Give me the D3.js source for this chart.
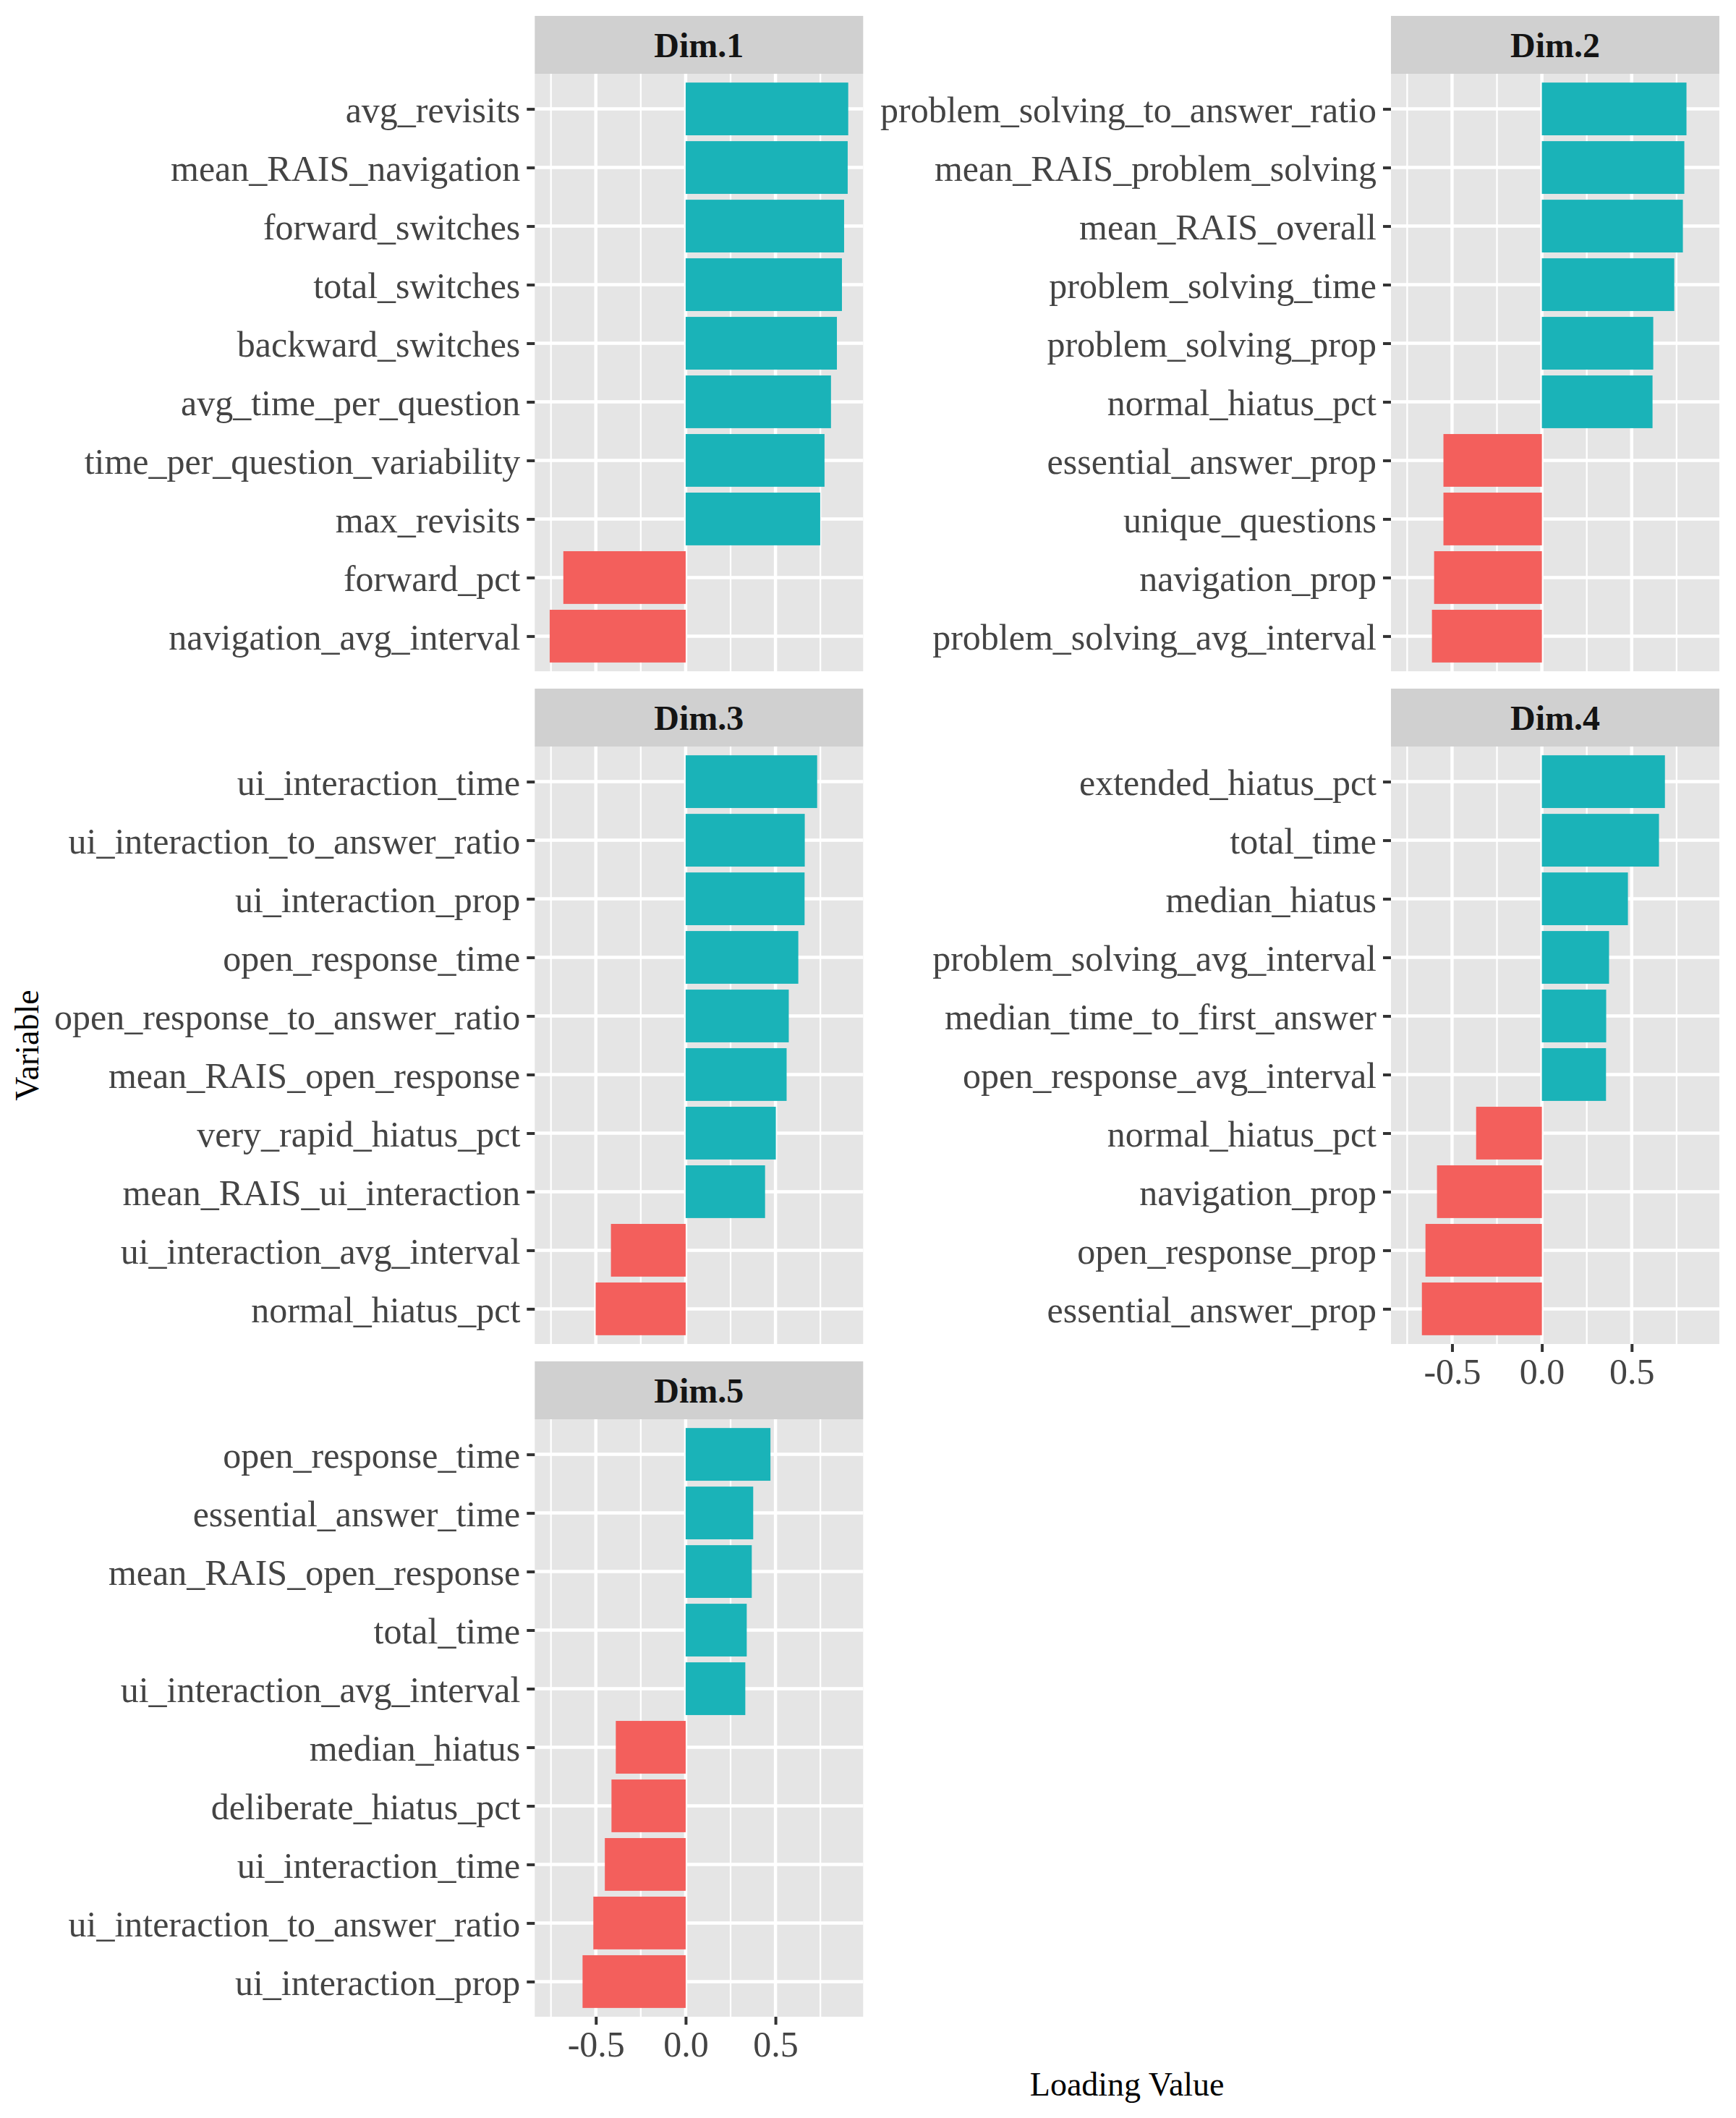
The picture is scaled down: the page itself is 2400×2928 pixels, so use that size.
<!DOCTYPE html>
<html>
<head>
<meta charset="utf-8">
<script src="https://cdn.jsdelivr.net/npm/d3@7"></script>
<style>
  body { margin: 0; background: #fff; }
  text { font-family: "Liberation Serif", "Times New Roman", serif; }
</style>
</head>
<body>
<div id="chart"></div>
<script>
// loadings per dimension, top to bottom as shown
var dim1Vars = ["avg_revisits", "mean_RAIS_navigation", "forward_switches", "total_switches",
  "backward_switches", "avg_time_per_question", "time_per_question_variability", "max_revisits",
  "forward_pct", "navigation_avg_interval"];
var dim1Vals = [0.905, 0.902, 0.882, 0.870, 0.842, 0.809, 0.773, 0.749, -0.681, -0.757];

var dim2Vars = ["problem_solving_to_answer_ratio", "mean_RAIS_problem_solving", "mean_RAIS_overall",
  "problem_solving_time", "problem_solving_prop", "normal_hiatus_pct", "essential_answer_prop",
  "unique_questions", "navigation_prop", "problem_solving_avg_interval"];
var dim2Vals = [0.805, 0.793, 0.785, 0.737, 0.620, 0.616, -0.548, -0.548, -0.600, -0.612];

var dim3Vars = ["ui_interaction_time", "ui_interaction_to_answer_ratio", "ui_interaction_prop",
  "open_response_time", "open_response_to_answer_ratio", "mean_RAIS_open_response",
  "very_rapid_hiatus_pct", "mean_RAIS_ui_interaction", "ui_interaction_avg_interval", "normal_hiatus_pct"];
var dim3Vals = [0.732, 0.663, 0.662, 0.627, 0.574, 0.562, 0.502, 0.442, -0.416, -0.501];

var dim4Vars = ["extended_hiatus_pct", "total_time", "median_hiatus", "problem_solving_avg_interval",
  "median_time_to_first_answer", "open_response_avg_interval", "normal_hiatus_pct",
  "navigation_prop", "open_response_prop", "essential_answer_prop"];
var dim4Vals = [0.685, 0.652, 0.479, 0.374, 0.358, 0.357, -0.366, -0.584, -0.648, -0.668];

var dim5Vars = ["open_response_time", "essential_answer_time", "mean_RAIS_open_response", "total_time",
  "ui_interaction_avg_interval", "median_hiatus", "deliberate_hiatus_pct", "ui_interaction_time",
  "ui_interaction_to_answer_ratio", "ui_interaction_prop"];
var dim5Vals = [0.472, 0.376, 0.368, 0.340, 0.332, -0.389, -0.413, -0.450, -0.514, -0.574];

var dimNames = ["Dim.1", "Dim.2", "Dim.3", "Dim.4", "Dim.5"];
var majorTicks = [-0.5, 0, 0.5];
var minorTicks = [-0.75, -0.25, 0.25, 0.75];

var panels = [
  {name: dimNames[0], vars: dim1Vars, vals: dim1Vals, col: 0, row: 0, xaxis: false},
  {name: dimNames[1], vars: dim2Vars, vals: dim2Vals, col: 1, row: 0, xaxis: false},
  {name: dimNames[2], vars: dim3Vars, vals: dim3Vals, col: 0, row: 1, xaxis: false},
  {name: dimNames[3], vars: dim4Vars, vals: dim4Vals, col: 1, row: 1, xaxis: true},
  {name: dimNames[4], vars: dim5Vars, vals: dim5Vals, col: 0, row: 2, xaxis: true}
];

var colX = [739.3, 1923];
var rowTop = [22, 952, 1882];
var panelW = 454, stripH = 80, panelH = 826;

var teal = "#1AB3B8", red = "#F35F5C";

// shared x scale, ggplot style 5% expansion
var allVals = dim1Vals.concat(dim2Vals, dim3Vals, dim4Vals, dim5Vals);
var lo = d3.min(allVals), hi = d3.max(allVals);
var pad = (hi - lo) * 0.05;
var x = d3.scaleLinear().domain([lo - pad, hi + pad]).range([0, panelW]);

var svg = d3.select("#chart").append("svg")
    .attr("width", 2400)
    .attr("height", 2928)
    .style("background", "#fff");

panels.forEach(function(p) {
  var g = svg.append("g")
      .attr("transform", "translate(" + colX[p.col] + "," + rowTop[p.row] + ")");

  // strip
  g.append("rect")
      .attr("width", panelW)
      .attr("height", stripH)
      .attr("fill", "#D0D0D0");
  g.append("text")
      .attr("x", panelW / 2)
      .attr("y", stripH / 2 + 17)
      .attr("text-anchor", "middle")
      .style("font-weight", "bold")
      .style("font-size", "48px")
      .attr("fill", "#141414")
      .text(p.name);

  var pg = g.append("g").attr("transform", "translate(0," + stripH + ")");

  pg.append("rect")
      .attr("width", panelW)
      .attr("height", panelH)
      .attr("fill", "#E5E5E5");

  var y = d3.scalePoint().domain(p.vars).range([0, panelH]).padding(0.6);
  var bw = y.step() * 0.9;

  // gridlines
  pg.selectAll(".minor")
      .data(minorTicks).enter()
      .append("line")
      .attr("x1", function(d) { return x(d); })
      .attr("x2", function(d) { return x(d); })
      .attr("y1", 0).attr("y2", panelH)
      .attr("stroke", "#fff")
      .attr("stroke-width", 2.3);
  pg.selectAll(".major")
      .data(majorTicks).enter()
      .append("line")
      .attr("x1", function(d) { return x(d); })
      .attr("x2", function(d) { return x(d); })
      .attr("y1", 0).attr("y2", panelH)
      .attr("stroke", "#fff")
      .attr("stroke-width", 4.5);
  pg.selectAll(".hgrid")
      .data(p.vars).enter()
      .append("line")
      .attr("x1", 0).attr("x2", panelW)
      .attr("y1", function(d) { return y(d); })
      .attr("y2", function(d) { return y(d); })
      .attr("stroke", "#fff")
      .attr("stroke-width", 4.5);

  // bars
  var rows = p.vars.map(function(v, i) { return {v: v, val: p.vals[i]}; });
  pg.selectAll(".bar")
      .data(rows).enter()
      .append("rect")
      .attr("x", function(d) { return x(Math.min(0, d.val)); })
      .attr("width", function(d) { return Math.abs(x(d.val) - x(0)); })
      .attr("y", function(d) { return y(d.v) - bw / 2; })
      .attr("height", bw)
      .attr("fill", function(d) { return d.val > 0 ? teal : red; });

  // y axis
  var ya = pg.append("g").call(d3.axisLeft(y).tickSize(11).tickPadding(9));
  ya.select(".domain").remove();
  ya.selectAll("line").attr("stroke", "#333").attr("stroke-width", 4);
  ya.selectAll("text")
      .attr("dy", "0.36em")
      .attr("fill", "#444")
      .style("font-size", "50px");

  // x axis only under the last panel of each column
  if (p.xaxis) {
    var xa = pg.append("g")
        .attr("transform", "translate(0," + panelH + ")")
        .call(d3.axisBottom(x).tickValues(majorTicks).tickSize(11).tickPadding(9)
          .tickFormat(function(d) { return d.toFixed(1); }));
    xa.select(".domain").remove();
    xa.selectAll("line").attr("stroke", "#333").attr("stroke-width", 4);
    xa.selectAll("text")
        .attr("dy", "0.7em")
        .attr("fill", "#444")
        .style("font-size", "50px");
  }
});

// axis titles
svg.append("text")
    .attr("x", (colX[0] + colX[1] + panelW) / 2)
    .attr("y", 2897)
    .attr("text-anchor", "middle")
    .style("font-size", "46px")
    .attr("fill", "#000")
    .text("Loading Value");

svg.append("text")
    .attr("transform", "translate(53," + (rowTop[0] + stripH + rowTop[2] + stripH + panelH) / 2 + ") rotate(-90)")
    .attr("text-anchor", "middle")
    .style("font-size", "46px")
    .attr("fill", "#000")
    .text("Variable");
</script>
</body>
</html>
